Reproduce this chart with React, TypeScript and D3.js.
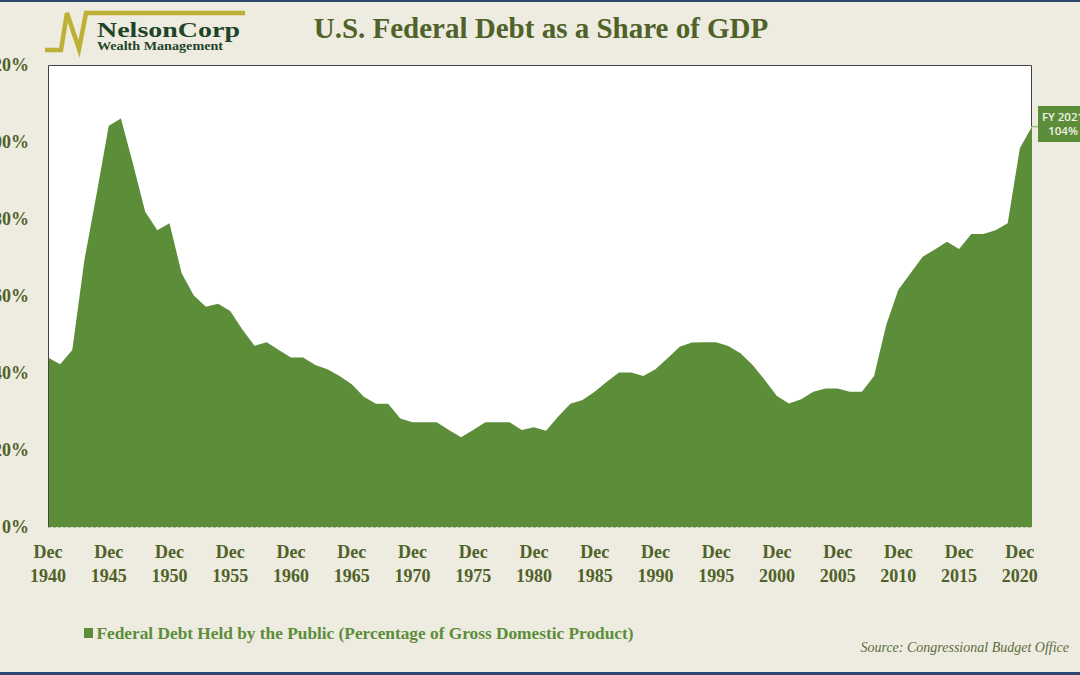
import React from 'react';
import * as d3 from 'd3';

// Federal debt held by the public, % of GDP, one value per year
const startYear = 1940;
const debtPct = [
  44.0, 42.3, 46.0, 69.4, 86.5, 104.2, 106.1, 94.3, 81.9, 77.1,
  78.9, 65.9, 60.1, 57.2, 58.0, 56.1, 51.3, 47.1, 48.0, 46.0,
  44.0, 44.0, 42.1, 41.0, 39.2, 37.1, 33.8, 32.0, 32.0, 28.2,
  27.2, 27.2, 27.2, 25.2, 23.3, 25.2, 27.2, 27.2, 27.2, 25.2,
  25.9, 25.0, 28.7, 32.0, 33.0, 35.1, 37.7, 40.1, 40.1, 39.2,
  41.0, 43.8, 46.8, 47.9, 48.0, 48.0, 47.0, 45.1, 42.1, 38.2,
  34.0, 32.1, 33.2, 35.1, 36.0, 36.0, 35.1, 35.1, 39.2, 52.5,
  61.6, 65.9, 70.2, 72.1, 74.1, 72.2, 76.1, 76.1, 77.1, 78.9,
  98.4, 104.0,
];
const years = debtPct.map((_, i) => startYear + i);

const tickYears = [1940, 1945, 1950, 1955, 1960, 1965, 1970, 1975, 1980, 1985, 1990, 1995, 2000, 2005, 2010, 2015, 2020];
const yTicks = [0, 20, 40, 60, 80, 100, 120];

const calloutLines = ['FY 2021', '104%'];
const legendLabel = 'Federal Debt Held by the Public (Percentage of Gross Domestic Product)';

const W = 1080;
const H = 675;
const plot = { left: 48, top: 65, right: 1032, bottom: 527 };

const BG = '#eeebe1';
const GREEN = '#5c8e3a';
const OLIVE = '#4f6228';
const SERIF = '"Liberation Serif", "Times New Roman", serif';

export default function App() {
  const x = d3.scaleLinear().domain([startYear, years[years.length - 1]]).range([plot.left, plot.right]);
  const y = d3.scaleLinear().domain([0, 120]).range([plot.bottom, plot.top]);

  const area = d3
    .area<number>()
    .x((_, i) => x(years[i]))
    .y0(y(0))
    .y1((d) => y(d));

  const lastX = x(years[years.length - 1]);
  const lastY = y(debtPct[debtPct.length - 1]);

  return (
    <svg
      width={W}
      height={H}
      style={{ position: 'absolute', left: 0, top: 0, display: 'block' }}
    >
      <rect x={0} y={0} width={W} height={H} fill={BG} />
      <rect x={0} y={0} width={W} height={2} fill="#2c4670" />
      <rect x={0} y={H - 3} width={W} height={3} fill="#2c4670" />

      {/* logo */}
      <polyline
        points="45,50 61,50 67,13 79,49 86,13 245,13"
        fill="none"
        stroke="#bcb036"
        strokeWidth={4.5}
        strokeLinejoin="miter"
      />
      <text x={97} y={36.5} fontFamily={SERIF} fontWeight="bold" fontSize={20} fill="#1f4528" textLength={143} lengthAdjust="spacingAndGlyphs">
        NelsonCorp
      </text>
      <text x={97} y={50} fontFamily={SERIF} fontWeight="bold" fontSize={12.5} fill="#1f4528" textLength={126} lengthAdjust="spacingAndGlyphs">
        Wealth Management
      </text>

      {/* title */}
      <text x={541} y={38} textAnchor="middle" fontFamily={SERIF} fontWeight="bold" fontSize={29} fill={OLIVE}>
        U.S. Federal Debt as a Share of GDP
      </text>

      {/* plot */}
      <rect x={plot.left} y={plot.top} width={plot.right - plot.left} height={plot.bottom - plot.top} fill="#ffffff" />
      <path d={area(debtPct) || ''} fill={GREEN} />
      <line x1={plot.left} x2={plot.right} y1={plot.bottom + 0.5} y2={plot.bottom + 0.5} stroke="#b8b8a8" strokeDasharray="3,2" />
      <path
        d={`M${plot.left + 0.5},${plot.bottom} V${plot.top + 0.5} H${plot.right - 0.5} V${lastY}`}
        fill="none"
        stroke="#444"
        strokeWidth={1}
      />

      {/* y axis labels */}
      {yTicks.map((t) => (
        <text key={t} x={29} y={y(t)} dy="0.35em" textAnchor="end" fontFamily={SERIF} fontWeight="bold" fontSize={18} fill={OLIVE}>
          {`${t}%`}
        </text>
      ))}

      {/* x axis labels */}
      {tickYears.map((yr) => (
        <g key={yr} transform={`translate(${x(yr)},0)`}>
          <text y={558} textAnchor="middle" fontFamily={SERIF} fontWeight="bold" fontSize={18} fill={OLIVE}>
            Dec
          </text>
          <text y={582} textAnchor="middle" fontFamily={SERIF} fontWeight="bold" fontSize={18} fill={OLIVE}>
            {yr}
          </text>
        </g>
      ))}

      {/* callout */}
      <line x1={lastX} x2={lastX + 6} y1={lastY} y2={lastY} stroke="#9cbf84" strokeWidth={1.5} />
      <rect x={lastX + 6} y={106} width={60} height={36} fill={GREEN} />
      {calloutLines.map((s, i) => (
        <text
          key={s}
          x={lastX + 31}
          y={121 + i * 14}
          textAnchor="middle"
          fontFamily='"Open Sans", "Liberation Sans", sans-serif'
          fontWeight={600}
          fontSize={11.5}
          fill="#f2f2e6"
        >
          {s}
        </text>
      ))}

      {/* legend */}
      <rect x={84} y={628} width={9} height={10} fill={GREEN} />
      <text x={96.5} y={639} fontFamily={SERIF} fontWeight="bold" fontSize={17} fill={GREEN} textLength={537} lengthAdjust="spacingAndGlyphs">
        {legendLabel}
      </text>

      {/* source */}
      <text x={1069} y={652} textAnchor="end" fontFamily={SERIF} fontStyle="italic" fontSize={14} fill="#5d6b3c">
        Source: Congressional Budget Office
      </text>
    </svg>
  );
}
